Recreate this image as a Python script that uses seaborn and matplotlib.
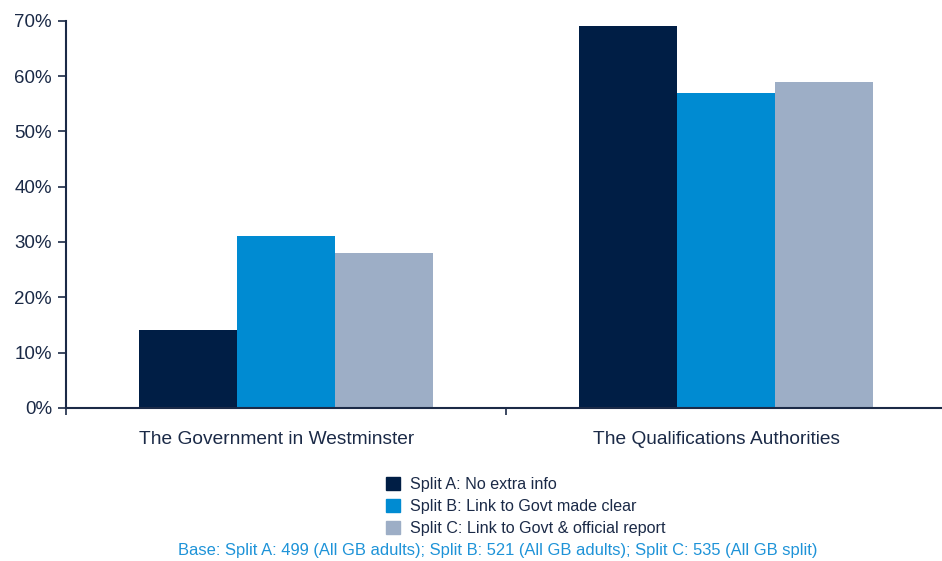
import matplotlib.pyplot as plt
import matplotlib.ticker as mticker
import matplotlib.transforms as mtransforms
import pandas as pd
import seaborn as sns

categories = ["The Government in Westminster", "The Qualifications Authorities"]
splits = [
    "Split A: No extra info",
    "Split B: Link to Govt made clear",
    "Split C: Link to Govt & official report",
]
split_a = [14, 69]
split_b = [31, 57]
split_c = [28, 59]
base_note = "Base: Split A: 499 (All GB adults); Split B: 521 (All GB adults); Split C: 535 (All GB split)"

palette = ["#001E45", "#008BD2", "#9DAEC6"]
navy = "#1B2A47"

# long-form table for seaborn
rows = []
for split, vals in zip(splits, [split_a, split_b, split_c]):
    for cat, v in zip(categories, vals):
        rows.append({"category": cat, "split": split, "value": v})
df = pd.DataFrame(rows)

sns.set_style("white")
plt.rcParams["font.family"] = ["Liberation Sans", "DejaVu Sans"]

fig = plt.figure(figsize=(9.42, 5.61), dpi=100)
ax = fig.add_axes([0.070, 0.273, 0.934, 0.690])

sns.barplot(
    data=df,
    x="category",
    y="value",
    hue="split",
    order=categories,
    hue_order=splits,
    palette=palette,
    width=0.667,
    saturation=1,
    linewidth=0,
    ax=ax,
)

ax.set_xlim(-0.5, 1.5)
ax.set_ylim(0, 70)
ax.yaxis.set_major_locator(mticker.MultipleLocator(10))
ax.yaxis.set_major_formatter(mticker.FuncFormatter(lambda v, p: f"{v:.0f}%"))
ax.set_xlabel("")
ax.set_ylabel("")

for side in ["top", "right"]:
    ax.spines[side].set_visible(False)
for side in ["left", "bottom"]:
    ax.spines[side].set_color(navy)
    ax.spines[side].set_linewidth(1.5)

ax.tick_params(axis="y", direction="out", length=6, width=1.2, color=navy,
               labelsize=13.5, labelcolor=navy, pad=4, left=True)
ax.tick_params(axis="x", which="major", length=0, labelsize=13.8,
               labelcolor=navy, pad=17)
ax.xaxis.set_minor_locator(mticker.FixedLocator([-0.5, 0.5]))
ax.tick_params(axis="x", which="minor", direction="out", length=5, width=1.2,
               color=navy, bottom=True)

# category labels sit a little left of the bar groups in the original
shift = mtransforms.ScaledTranslation(-0.09, 0, fig.dpi_scale_trans)
for lbl in ax.get_xticklabels():
    lbl.set_transform(lbl.get_transform() + shift)

ax.get_legend().remove()
handles = [plt.Rectangle((0, 0), 1, 1, color=c) for c in palette]
fig.legend(
    handles,
    splits,
    loc="upper left",
    bbox_to_anchor=(0.410, 0.150),
    frameon=False,
    fontsize=11.6,
    handlelength=0.85,
    handleheight=0.85,
    handletextpad=0.6,
    labelspacing=0.45,
    borderaxespad=0,
    borderpad=0,
    labelcolor=navy,
)

fig.text(0.528, 0.019, base_note, ha="center", va="center",
         fontsize=11.9, color="#1E93D8")

fig.savefig("out.png", dpi=100)
